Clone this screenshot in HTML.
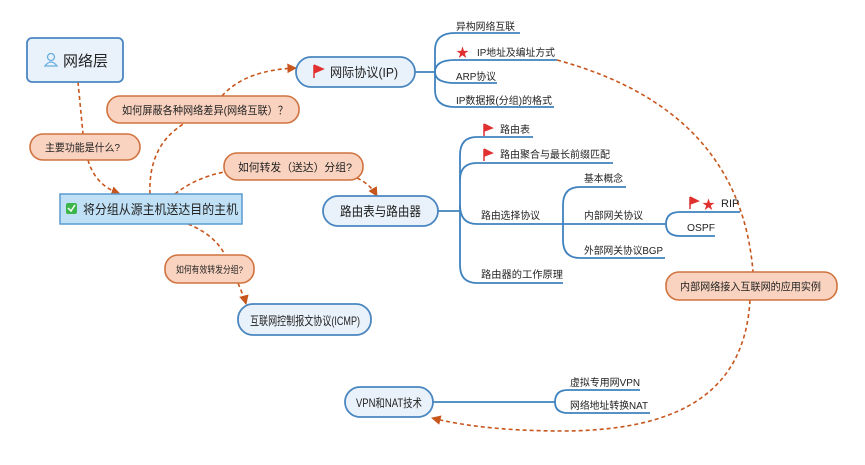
<!DOCTYPE html>
<html><head><meta charset="utf-8"><style>
body{margin:0;background:#fff;}
svg{display:block;font-family:"Liberation Sans","Noto Sans CJK SC",sans-serif;}
</style></head><body>
<svg width="865" height="465" viewBox="0 0 865 465" xmlns="http://www.w3.org/2000/svg">
<defs>
<marker id="ar" viewBox="0 0 10 10" refX="9" refY="5" markerWidth="6" markerHeight="6" orient="auto"><path d="M0,0L10,5L0,10z" fill="#c8561c"/></marker>
</defs>
<g fill="none" stroke="#c8561c" stroke-width="1.6" stroke-dasharray="4,3">
<path d="M78,82 L83,134"/>
<path d="M88,160 Q95,185 120,194" marker-end="url(#ar)"/>
<path d="M150,194 Q148,145 185,123"/>
<path d="M222,96 Q245,70 296,68" marker-end="url(#ar)"/>
<path d="M175,194 Q195,178 224,172"/>
<path d="M357,178 Q370,184 377,196" marker-end="url(#ar)"/>
<path d="M188,224 Q215,235 225,255"/>
<path d="M238,283 Q245,300 246,304" marker-end="url(#ar)"/>
<path d="M557,60 Q740,110 753,272"/>
<path d="M750,300 C745,385 690,430 565,431 C500,431 460,425 432,418" marker-end="url(#ar)"/>
</g>
<g fill="none" stroke="#3f82bd" stroke-width="1.8">
<path d="M415,72 L435,72"/>
<path d="M455,33 L520,33 M455,33 Q435,33 435,50 L435,90 Q435,107 455,107 L554,107"/>
<path d="M455,60 Q435,60 435,72 Q435,83 455,83 L497,83 M455,60 L557,60"/>
<path d="M438,211 L460,211"/>
<path d="M477,137 L533,137 M477,137 Q460,137 460,155 L460,265 Q460,283 477,283 L563,283"/>
<path d="M477,163 L613,163 M477,163 Q460,163 460,180"/>
<path d="M460,205 Q460,224 477,224 L666,224"/>
<path d="M580,187 L626,187 M580,187 Q563,187 563,205 L563,240 Q563,258 580,258 L665,258"/>
<path d="M680,212 L740,212 M680,212 Q666,212 666,224 Q666,236 680,236 L715,236"/>
<path d="M433,402 L555,402"/>
<path d="M568,390 L640,390 M568,390 Q555,390 555,402 Q555,413 568,413 L650,413"/>
</g>
<rect x="27" y="38" width="96" height="44" rx="5" fill="#e9f2fa" stroke="#4a86c0" stroke-width="1.8"/>
<circle cx="51" cy="57" r="3.5" fill="none" stroke="#6aaee0" stroke-width="1.3"/><path d="M45,66 Q51,58 57,66 Z" fill="none" stroke="#6aaee0" stroke-width="1.3"/>
<text x="63" y="66" font-size="15" fill="#222">网络层</text>
<rect x="296" y="57" width="119" height="30" rx="15" fill="#e9f2fa" stroke="#4a86c0" stroke-width="1.8"/>
<path d="M314,65 L314,78 M314,65 L323,69 L314,73" fill="#e03030" stroke="#e03030" stroke-width="1.5"/>
<text x="330" y="77" font-size="13" fill="#222" textLength="68" lengthAdjust="spacingAndGlyphs">网际协议(IP)</text>
<rect x="107" y="96" width="192" height="27" rx="13" fill="#f9d3c0" stroke="#d0733f" stroke-width="1.6"/>
<text x="122" y="114" font-size="11" fill="#222" textLength="166" lengthAdjust="spacingAndGlyphs">如何屏蔽各种网络差异(网络互联）？</text>
<rect x="30" y="134" width="110" height="26" rx="13" fill="#f9d3c0" stroke="#d0733f" stroke-width="1.6"/>
<text x="45" y="151" font-size="10.5" fill="#222" textLength="75" lengthAdjust="spacingAndGlyphs">主要功能是什么?</text>
<rect x="60" y="194" width="182" height="30" fill="#bfe0f5" stroke="#5a9bd0" stroke-width="1.5"/>
<rect x="66" y="203" width="11" height="11" rx="2" fill="#3cb64a"/><path d="M68,208 L71,211 L75,205" stroke="#fff" stroke-width="1.5" fill="none"/>
<text x="83" y="214" font-size="13" fill="#222" textLength="155" lengthAdjust="spacingAndGlyphs">将分组从源主机送达目的主机</text>
<rect x="224" y="153" width="139" height="27" rx="13" fill="#f9d3c0" stroke="#d0733f" stroke-width="1.6"/>
<text x="238" y="171" font-size="11" fill="#222" textLength="114" lengthAdjust="spacingAndGlyphs">如何转发（送达）分组?</text>
<rect x="323" y="196" width="115" height="30" rx="15" fill="#e9f2fa" stroke="#4a86c0" stroke-width="1.8"/>
<text x="340" y="216" font-size="13" fill="#222" textLength="81" lengthAdjust="spacingAndGlyphs">路由表与路由器</text>
<rect x="165" y="255" width="89" height="28" rx="13" fill="#f9d3c0" stroke="#d0733f" stroke-width="1.6"/>
<text x="176" y="273" font-size="9.5" fill="#222" textLength="67" lengthAdjust="spacingAndGlyphs">如何有效转发分组?</text>
<rect x="238" y="304" width="133" height="31" rx="15" fill="#e9f2fa" stroke="#4a86c0" stroke-width="1.8"/>
<text x="250" y="325" font-size="12" fill="#222" textLength="110" lengthAdjust="spacingAndGlyphs">互联网控制报文协议(ICMP)</text>
<rect x="345" y="387" width="88" height="30" rx="15" fill="#e9f2fa" stroke="#4a86c0" stroke-width="1.8"/>
<text x="356" y="407" font-size="11.5" fill="#222" textLength="66" lengthAdjust="spacingAndGlyphs">VPN和NAT技术</text>
<rect x="666" y="272" width="171" height="28" rx="13" fill="#f9d3c0" stroke="#d0733f" stroke-width="1.6"/>
<text x="680" y="290" font-size="10.5" fill="#222" textLength="141" lengthAdjust="spacingAndGlyphs">内部网络接入互联网的应用实例</text>
<g font-size="10" fill="#222">
<text x="456" y="30" textLength="59" lengthAdjust="spacingAndGlyphs">异构网络互联</text>
<text x="477" y="56" textLength="78" lengthAdjust="spacingAndGlyphs">IP地址及编址方式</text>
<text x="456" y="80" textLength="40" lengthAdjust="spacingAndGlyphs">ARP协议</text>
<text x="456" y="104" textLength="96" lengthAdjust="spacingAndGlyphs">IP数据报(分组)的格式</text>
<text x="500" y="133" textLength="30" lengthAdjust="spacingAndGlyphs">路由表</text>
<text x="500" y="158" textLength="110" lengthAdjust="spacingAndGlyphs">路由聚合与最长前缀匹配</text>
<text x="481" y="219" textLength="59" lengthAdjust="spacingAndGlyphs">路由选择协议</text>
<text x="481" y="278" textLength="82" lengthAdjust="spacingAndGlyphs">路由器的工作原理</text>
<text x="584" y="182" textLength="39" lengthAdjust="spacingAndGlyphs">基本概念</text>
<text x="584" y="219" textLength="59" lengthAdjust="spacingAndGlyphs">内部网关协议</text>
<text x="584" y="254" textLength="79" lengthAdjust="spacingAndGlyphs">外部网关协议BGP</text>
<text x="721" y="207" font-size="11">RIP</text>
<text x="687" y="231" textLength="28" lengthAdjust="spacingAndGlyphs">OSPF</text>
<text x="570" y="386" textLength="70" lengthAdjust="spacingAndGlyphs">虚拟专用网VPN</text>
<text x="570" y="409" textLength="78" lengthAdjust="spacingAndGlyphs">网络地址转换NAT</text>
</g>
<g fill="#e03030" stroke="#e03030">
<text x="456" y="57" font-size="13" stroke="none">★</text>
<path d="M484,124 L484,136 M484,124 L492,128 L484,131" stroke-width="1.5"/>
<path d="M484,149 L484,161 M484,149 L492,153 L484,156" stroke-width="1.5"/>
<path d="M690,197 L690,209 M690,197 L698,201 L690,204" stroke-width="1.5"/>
<text x="702" y="209" font-size="13" stroke="none">★</text>
</g>
</svg>
</body></html>
